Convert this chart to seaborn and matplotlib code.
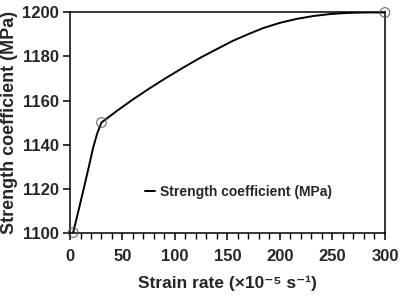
import matplotlib
matplotlib.use("Agg")
import matplotlib.pyplot as plt
from matplotlib.ticker import MultipleLocator
import seaborn as sns
import pandas as pd

# Data
point_x = [3, 30, 300]
point_y = [1100, 1150, 1200]

curve_x = [3, 8, 13, 18, 22, 26, 30, 45, 60, 76, 92, 108, 124, 140, 155,
           170, 184, 200, 216, 232, 248, 264, 282, 300]
curve_y = [1100, 1109.8, 1119.8, 1130, 1138.5, 1145.2, 1150, 1155.4, 1160.5,
           1165.6, 1170.4, 1175.0, 1179.4, 1183.4, 1187.1, 1190.2, 1192.9,
           1195.3, 1197.1, 1198.4, 1199.3, 1199.8, 1200, 1200]

x_ticks = [0, 50, 100, 150, 200, 250, 300]
y_ticks = [1100, 1120, 1140, 1160, 1180, 1200]
series_label = "Strength coefficient (MPa)"
x_label = "Strain rate (×10\u207b\u2075 s\u207b\u00b9)"
y_label = "Strength coefficient (MPa)"

sns.set_theme(style="ticks")
plt.rcParams["font.family"] = ["Liberation Sans", "DejaVu Sans"]
plt.rcParams["font.weight"] = "bold"

curve_df = pd.DataFrame({"x": curve_x, "y": curve_y})
pts_df = pd.DataFrame({"x": point_x, "y": point_y})

fig = plt.figure(figsize=(4.03, 2.97), dpi=100)
ax = fig.add_axes([0.1737, 0.217, 0.7816, 0.741])

sns.lineplot(data=curve_df, x="x", y="y", ax=ax, color="black", linewidth=1.4,
             sort=False, estimator=None, label=series_label)
sns.scatterplot(data=pts_df, x="x", y="y", ax=ax, s=48, facecolor="none",
                edgecolor="#555555", linewidth=0.7, zorder=5, clip_on=False)

ax.set_xlim(0, 300)
ax.set_ylim(1100, 1200)
ax.set_xticks(x_ticks)
ax.set_yticks(y_ticks)
ax.xaxis.set_minor_locator(MultipleLocator(10))
ax.tick_params(axis="both", which="major", direction="out", length=5, width=1.1,
               labelsize=12, pad=3, color="black")
ax.tick_params(axis="x", which="major", pad=7)
ax.tick_params(axis="x", which="minor", direction="out", length=4, width=1.0,
               color="black")
ax.tick_params(top=False, right=False)
for lab in ax.get_xticklabels() + ax.get_yticklabels():
    lab.set_fontweight("bold")

for sp in ax.spines.values():
    sp.set_visible(True)
    sp.set_linewidth(1.1)
    sp.set_color("black")

ax.set_xlabel(x_label, fontsize=12.5, fontweight="bold", labelpad=8)
ax.set_ylabel(y_label, fontsize=13, fontweight="bold", labelpad=3)

handles, labels = ax.get_legend_handles_labels()
ax.legend(handles[:1], labels[:1], loc="center left", bbox_to_anchor=(0.238, 0.184),
          frameon=False, handlelength=0.7, handletextpad=0.4, borderpad=0,
          borderaxespad=0, prop={"weight": "bold", "size": 10})

fig.savefig("out.png", dpi=100)
